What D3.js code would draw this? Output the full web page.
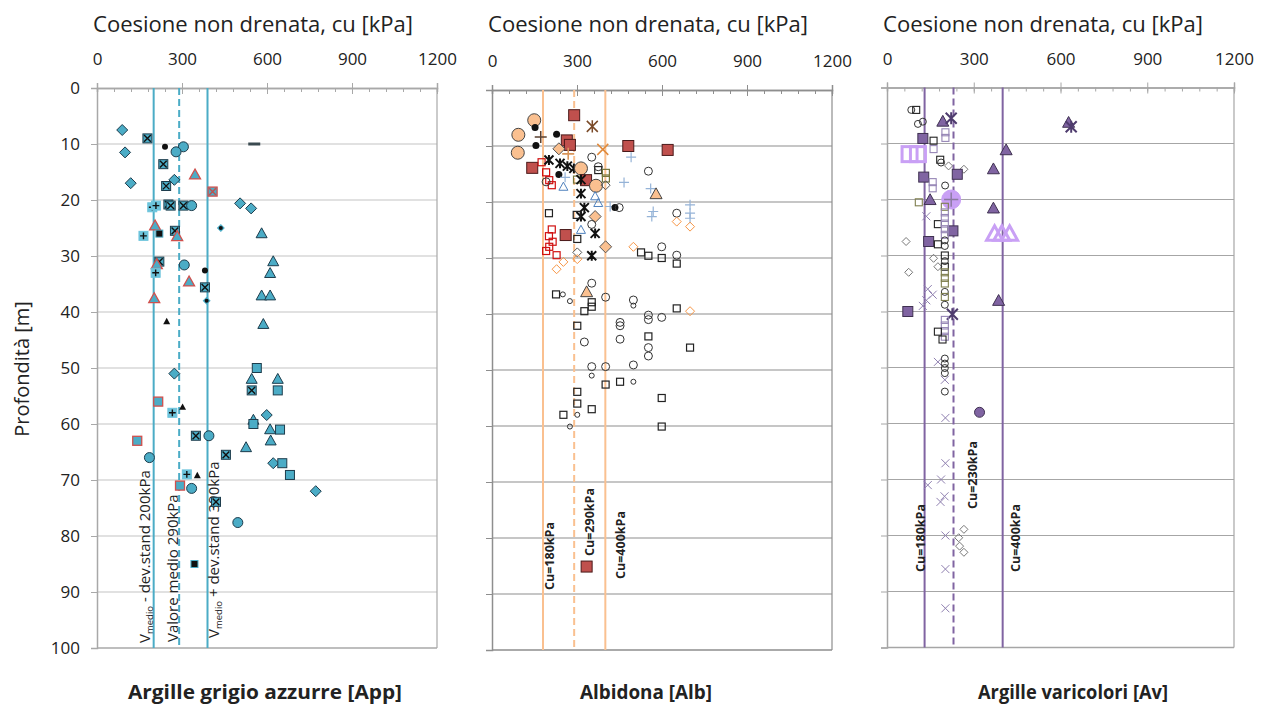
<!DOCTYPE html>
<html>
<head>
<meta charset="utf-8">
<script src="https://cdn.jsdelivr.net/npm/d3@7"></script>
<style>
  body { margin: 0; background: #fff; }
  svg { display: block; }
  text { font-family: "Open Sans", "Liberation Sans", sans-serif; fill: #222; }
</style>
</head>
<body>
<div id="chart"></div>
<script>
// ---- data ----
const cuTicks = [0, 300, 600, 900, 1200];
const cuMinor = d3.range(0, 1201, 60);
const depthTicks = d3.range(0, 101, 10);

// [cu kPa, depth m, series]
const appPoints = [
  [89,7.5,'diamond'],[178,9,'xsquare'],[240,10.5,'dot'],[305,10.5,'circle'],[279,11.4,'circle'],
  [555,10,'dash'],[99,11.5,'diamond'],[234,13.6,'xsquare'],[346,15.5,'redtri'],[119,17,'diamond'],
  [273,16.4,'diamond'],[244,17.5,'xsquare'],[408,18.5,'redx'],[195,21.3,'plussquare'],[208,21,'plussquare'],
  [252,20.8,'xsquare'],[260,21,'xsquare'],[305,21,'xsquare'],[334,21,'circle'],[505,20.6,'diamond'],
  [544,21.5,'diamond'],[205,24.6,'redtri'],[437,25,'dotdiamond'],[275,25.5,'xsquare'],[283,26.5,'redtri'],
  [164,26.4,'plussquare'],[220,26,'blacksq'],[581,26,'triangle'],[220,31,'xsquare'],[211,31.5,'redtri'],
  [308,31.6,'circle'],[622,31,'triangle'],[381,32.6,'dot'],[207,33,'plussquare'],[611,33.1,'triangle'],
  [325,34.6,'redtri'],[381,35.6,'xsquare'],[202,37.6,'redtri'],[387,38,'dotdiamond'],[581,37.1,'triangle'],
  [611,37.1,'triangle'],[246,41.7,'blacktri'],[587,42.2,'triangle'],[564,50,'square'],[273,51,'diamond'],
  [546,52,'triangle'],[638,52,'triangle'],[546,54,'xsquare'],[638,54,'square'],[216,56,'redsq'],
  [302,57,'blacktri'],[266,58,'plussquare'],[552,59.3,'triangle'],[552,60,'square'],[599,58.4,'diamond'],
  [611,61,'triangle'],[646,61,'square'],[142,63,'redsq'],[349,62.1,'xsquare'],[395,62.1,'circle'],
  [613,63,'triangle'],[185,66,'circle'],[526,64.2,'triangle'],[455,65.5,'xsquare'],[622,67,'diamond'],
  [654,67,'square'],[681,69.1,'square'],[317,69,'plussquare'],[354,69.2,'blacktri'],[293,71,'redsq'],
  [334,71.5,'circle'],[772,72,'diamond'],[420,73.9,'xsquare'],[497,77.6,'circle'],[344,85,'blacksq']
];

const albPoints = [
  [149,5.4,'peachcircle'],[152,6.7,'dot'],[93,8,'peachcircle'],[91,11.2,'peachcircle'],[155,9.9,'dot'],
  [172,8.4,'brownplus'],[228,7.9,'dot'],[290,4.5,'darkredsq'],[354,6.5,'brownstar'],[264,9,'darkredsq'],
  [275,9.8,'darkredsq'],[236,10.5,'peachdiamond'],[269,11.4,'peachplus'],[391,10.6,'orangex'],
  [481,10,'darkredsq'],[620,10.7,'darkredsq'],[491,12,'blueplus'],[352,12,'opencircle'],[142,13.9,'darkredsq'],
  [175,12.9,'redopensq'],[191,14.7,'redopensq'],[202,16.1,'redopensq'],[211,17,'redopensq'],
  [201,12.5,'star'],[240,13.1,'star'],[266,13.6,'star'],[289,14,'star'],[236,15.1,'dot'],
  [191,16.4,'opencircle'],[252,17.3,'bluetri'],[258,15.6,'blueplus'],[314,14,'peachcircle'],
  [375,14.3,'opensquare'],[402,14.8,'olivesq'],[375,13.7,'opencircle'],[332,16.1,'darkredsq'],
  [300,16,'olivesq'],[314,16,'star'],[367,17.1,'peachcircle'],[402,15.8,'olivesq'],[401,17,'greydiamond'],
  [552,14.5,'opencircle'],[466,16.5,'blueplus'],[560,17.6,'blueplus'],[579,18.6,'peachtri'],[314,18.5,'star'],
  [364,19,'bluetri'],[375,20.2,'bluetri'],[326,21,'star'],[314,22.6,'star'],[417,20.8,'blueplus'],
  [434,21,'dot'],[449,21,'opencircle'],[569,21.7,'blueplus'],[564,22.6,'blueplus'],[652,22,'opencircle'],
  [699,20.5,'blueplus'],[699,22,'blueplus'],[699,22.9,'blueplus'],[652,23.5,'orangediamond'],
  [699,24.4,'orangediamond'],[201,22,'opensquare'],[299,22.3,'opensquare'],[364,22.6,'peachdiamond'],
  [352,24,'opencircle'],[314,25,'bluetri'],[364,25.6,'star'],[211,24.9,'redopensq'],[201,26.1,'redopensq'],
  [214,27.1,'redopensq'],[202,28,'redopensq'],[191,28.75,'redopensq'],[228,29.5,'redopensq'],
  [260,25.9,'darkredsq'],[301,26.6,'opensquare'],[301,29,'greydiamond'],[401,28,'peachdiamond'],
  [352,29.6,'star'],[301,30.2,'orangediamond'],[499,28,'orangediamond'],[526,29,'opensquare'],
  [552,29.6,'opensquare'],[599,28,'opencircle'],[599,30,'opensquare'],[652,29.5,'opencircle'],
  [652,31,'opensquare'],[252,30.7,'orangediamond'],[228,32,'orangediamond'],[352,34.5,'opencircle'],
  [334,36.1,'peachtri'],[226,36.5,'opensquare'],[250,36.5,'smallcircle'],[275,37.7,'smallcircle'],
  [401,37,'opencircle'],[352,37.9,'opensquare'],[352,38.7,'opensquare'],[326,39.5,'opensquare'],
  [499,37.5,'opencircle'],[499,38.5,'smallcircle'],[652,39,'opensquare'],[699,39.5,'orangediamond'],
  [552,40.2,'opencircle'],[552,41,'opencircle'],[599,40.6,'opencircle'],[301,42.1,'opensquare'],
  [452,41.5,'opencircle'],[452,42.1,'opencircle'],[326,45,'opencircle'],[452,44.5,'opencircle'],
  [552,44,'opensquare'],[552,46,'opencircle'],[552,47.5,'opencircle'],[699,46,'opensquare'],
  [352,49.4,'opencircle'],[401,49.4,'opencircle'],[499,49.1,'opencircle'],[352,51,'smallcircle'],
  [401,52.6,'opensquare'],[452,52.1,'opensquare'],[499,52.1,'smallcircle'],[599,55,'opensquare'],
  [301,53.9,'opensquare'],[301,56,'opensquare'],[352,57,'opensquare'],[252,58,'opensquare'],
  [301,58,'smallcircle'],[275,60.1,'smallcircle'],[599,60.1,'opensquare'],[334,85.1,'darkredsq']
];

const avPoints = [
  [84,4,'opencircle'],[101,4,'opensquare'],[107,6.5,'opencircle'],[124,6.1,'opencircle'],
  [193,6.1,'purpletri'],[222,5.5,'purplestar'],[628,6.3,'purpletri'],[637,7,'purplestar'],
  [202,8,'greysq'],[202,9,'greysq'],[124,9.1,'purplesq'],[161,9.5,'opensquare'],[161,11,'greysq'],
  [78,11.9,'bigsq'],[107,11.9,'bigsq'],[412,11.2,'purpletri'],[184,12.9,'opensquare'],[187,13.4,'opencircle'],
  [213,14,'opendiamond'],[266,14.6,'opendiamond'],[243,15.5,'purplesq'],[368,14.6,'purpletri'],
  [127,16,'purplesq'],[158,16.9,'greysq'],[158,18,'greysq'],[201,17.5,'opencircle'],[110,20.5,'olivesq'],
  [149,20.1,'purpletri'],[222,20,'bigcircle'],[368,21.6,'purpletri'],[136,23,'greyx'],
  [176,24.4,'opensquare'],[228,25.6,'purplesq'],[372,26.2,'bigtri'],[397,26.2,'bigtri'],[424,26.2,'bigtri'],
  [66,27.5,'opendiamond'],[144,27.5,'purplesq'],[176,28,'opensquare'],[161,30.5,'opendiamond'],
  [176,32,'opendiamond'],[75,33,'opendiamond'],
  [200,21.3,'olivesq'],[200,22.3,'greysq'],[200,23.3,'greysq'],[200,24.3,'greysq'],[200,25.3,'greysq'],
  [200,26.3,'greysq'],[200,27.3,'opencircle'],[200,28.3,'opencircle'],[200,30,'opensquare'],
  [200,31,'opencircle'],[200,32,'opensquare'],[200,33,'olivesq'],[200,34,'olivesq'],[200,35,'olivesq'],
  [200,36.5,'opencircle'],[200,37.4,'olivesq'],[200,38.8,'opencircle'],
  [141,36,'greyx'],[158,37,'greyx'],[136,38,'greyx'],[124,39,'greyx'],[386,38.1,'purpletri'],
  [72,40,'purplesq'],[226,40.5,'purplestar'],[200,41.5,'greysq'],[200,42.5,'greysq'],[200,43.5,'greysq'],
  [200,44.5,'greysq'],[176,43.6,'opensquare'],[192,45,'opensquare'],[176,49,'greyx'],
  [200,48.4,'opencircle'],[200,49.3,'opencircle'],[200,50.1,'opencircle'],[200,51,'opencircle'],
  [200,52.2,'greyx'],[200,54.3,'opencircle'],[202,59,'greyx'],[320,58,'purpledot'],
  [202,67.1,'greyx'],[187,70,'greyx'],[141,71,'greyx'],[199,73,'greyx'],[185,74,'greyx'],
  [202,80,'greyx'],[202,86,'greyx'],[202,93,'greyx'],
  [266,78.9,'opendiamond'],[248,80.4,'opendiamond'],[251,81.9,'opendiamond'],[266,83,'opendiamond']
];

// reference lines: [cu, dashed]
const appLines = [[200,false],[290,true],[390,false]];
const albLines = [[180,false],[290,true],[400,false]];
const avLines  = [[130,false],[230,true],[400,false]];

const appLabels = ['Vmedio - dev.stand  200kPa', 'Valore medio  290kPa', 'Vmedio + dev.stand  390kPa'];
const albLabels = ['Cu=180kPa', 'Cu=290kPa', 'Cu=400kPa'];
const avLabels  = ['Cu=180kPa', 'Cu=230kPa', 'Cu=400kPa'];

const panelNames = ['Argille grigio azzurre [App]', 'Albidona [Alb]', 'Argille varicolori [Av]'];
const xTitle = 'Coesione non drenata, cu [kPa]';
const yTitle = 'Profondità [m]';

// ---- styles ----
const teal = '#4bacc6', tealDk = '#1d3c4c';
const appStyles = {
  diamond:    {shape:'diamond', size:11, fill:teal, stroke:tealDk},
  circle:     {shape:'circle', size:10, fill:teal, stroke:tealDk},
  triangle:   {shape:'triangle', size:11, fill:teal, stroke:tealDk},
  square:     {shape:'square', size:9, fill:teal, stroke:tealDk},
  xsquare:    {shape:'square', size:9, fill:teal, stroke:tealDk, inner:'x', ic:'#111'},
  plussquare: {shape:'square', size:9, fill:'#6cc4dc', stroke:'#6cc4dc', inner:'plus', ic:'#111'},
  redtri:     {shape:'triangle', size:11, fill:teal, stroke:'#d0504d', sw:1.3},
  redsq:      {shape:'square', size:9, fill:teal, stroke:'#d0504d', sw:1.3},
  redx:       {shape:'square', size:9, fill:teal, stroke:'#d0504d', sw:1.3, inner:'x', ic:'#c0504d'},
  dot:        {shape:'circle', size:6, fill:'#111', stroke:'none'},
  blacksq:    {shape:'square', size:7, fill:'#111', stroke:teal},
  blacktri:   {shape:'triangle', size:7, fill:'#111', stroke:'none'},
  dash:       {shape:'dash', size:12, fill:'#3a4a50'},
  dotdiamond: {shape:'diamond', size:8, fill:teal, stroke:'none', inner:'dot'}
};
const albStyles = {
  opencircle:   {shape:'circle', size:8, fill:'none', stroke:'#333'},
  smallcircle:  {shape:'circle', size:5, fill:'none', stroke:'#333'},
  opensquare:   {shape:'square', size:7, fill:'none', stroke:'#222', sw:1.2},
  orangediamond:{shape:'diamond', size:9, fill:'none', stroke:'#f79646'},
  redopensq:    {shape:'square', size:7, fill:'none', stroke:'#d01010', sw:1.2},
  blueplus:     {shape:'plus', size:10, stroke:'#95b3d7', sw:1.2},
  bluetri:      {shape:'triangle', size:9, fill:'none', stroke:'#4f81bd'},
  peachcircle:  {shape:'circle', size:13, fill:'#fac090', stroke:'#444'},
  darkredsq:    {shape:'square', size:11, fill:'#c0504d', stroke:'#4a1a1a'},
  star:         {shape:'star', size:9, stroke:'#111', sw:2},
  dot:          {shape:'circle', size:7, fill:'#111', stroke:'none'},
  peachtri:     {shape:'triangle', size:12, fill:'#fac090', stroke:'#444'},
  peachdiamond: {shape:'diamond', size:12, fill:'#fac090', stroke:'#555'},
  peachplus:    {shape:'plus', size:12, stroke:'#d9955a', sw:1.6},
  brownplus:    {shape:'plus', size:12, stroke:'#5a4030', sw:1.5},
  brownstar:    {shape:'star', size:11, stroke:'#7a4a28', sw:1.5},
  orangex:      {shape:'x', size:11, stroke:'#e08a3c', sw:1.5},
  olivesq:      {shape:'square', size:7, fill:'none', stroke:'#77773c', sw:1.2},
  greydiamond:  {shape:'diamond', size:9, fill:'none', stroke:'#555'}
};
const purple = '#8064a2', purpleDk = '#3f3151', lav = '#c9a0f5';
const avStyles = {
  opencircle: {shape:'circle', size:7, fill:'none', stroke:'#333'},
  opensquare: {shape:'square', size:7, fill:'none', stroke:'#222', sw:1.1},
  olivesq:    {shape:'square', size:7, fill:'none', stroke:'#7f7f4f', sw:1.1},
  greysq:     {shape:'square', size:7, fill:'none', stroke:'#9585b5', sw:1.1},
  purpletri:  {shape:'triangle', size:12, fill:purple, stroke:purpleDk},
  purplesq:   {shape:'square', size:10, fill:purple, stroke:purpleDk},
  purplestar: {shape:'star', size:11, stroke:'#4f3c6e', sw:2},
  bigsq:      {shape:'square', size:15, fill:'none', stroke:lav, sw:3},
  bigtri:     {shape:'triangle', size:16, fill:'none', stroke:lav, sw:3},
  bigcircle:  {shape:'circle', size:19, fill:lav, stroke:lav, inner:'plus', ic:'#8a7aa0'},
  greyx:      {shape:'x', size:8, stroke:'#8f80b0', sw:1},
  opendiamond:{shape:'diamond', size:8, fill:'none', stroke:'#777'},
  purpledot:  {shape:'circle', size:10, fill:purple, stroke:purpleDk}
};

// ---- layout ----
const W = 1264, H = 705;
const panels = [
  {points:appPoints, styles:appStyles, lines:appLines, labels:appLabels, name:panelNames[0],
   box:{x0:97, x1:437, y0:88, y1:648}, grid:'#c4c4c4', axis:'#a8a8a8', lineColor:teal,
   showDepth:true, titleW:320, nameX:265, nameW:274, labelKind:'app'},
  {points:albPoints, styles:albStyles, lines:albLines, labels:albLabels, name:panelNames[1],
   box:{x0:492, x1:832, y0:90, y1:650}, grid:'#8e8e8e', axis:'#8e8e8e', lineColor:'#fac090',
   showDepth:false, titleW:320, nameX:646, nameW:132, labelKind:'cu',
   labelPos:[[11,590],[20,556],[20,579]]},
  {points:avPoints, styles:avStyles, lines:avLines, labels:avLabels, name:panelNames[2],
   box:{x0:887, x1:1234, y0:87.5, y1:647.5}, grid:'#a6a6a6', axis:'#a6a6a6', lineColor:purple,
   showDepth:false, titleW:320, nameX:1073, nameW:190, labelKind:'cu',
   labelPos:[[0,572],[23,509],[17,572]]}
];

const svg = d3.select('#chart').append('svg').attr('width', W).attr('height', H);

function shapePath(shape, s) {
  const p = d3.path(), h = s / 2;
  if (shape === 'diamond') { p.moveTo(0,-h); p.lineTo(h,0); p.lineTo(0,h); p.lineTo(-h,0); p.closePath(); }
  else if (shape === 'triangle') { p.moveTo(0,-h*1.05); p.lineTo(h,h*0.75); p.lineTo(-h,h*0.75); p.closePath(); }
  else if (shape === 'x') { p.moveTo(-h,-h); p.lineTo(h,h); p.moveTo(h,-h); p.lineTo(-h,h); }
  else if (shape === 'plus') { p.moveTo(-h,0); p.lineTo(h,0); p.moveTo(0,-h); p.lineTo(0,h); }
  else if (shape === 'star') { p.moveTo(-h,-h); p.lineTo(h,h); p.moveTo(h,-h); p.lineTo(-h,h); p.moveTo(0,-h*1.1); p.lineTo(0,h*1.1); }
  return p.toString();
}

function drawMarker(g, st) {
  const s = st.size, h = s / 2, sw = st.sw || 1;
  if (st.shape === 'circle') {
    g.append('circle').attr('r', h).attr('fill', st.fill).attr('stroke', st.stroke).attr('stroke-width', sw);
  } else if (st.shape === 'square') {
    g.append('rect').attr('x', -h).attr('y', -h).attr('width', s).attr('height', s)
      .attr('fill', st.fill).attr('stroke', st.stroke).attr('stroke-width', sw);
  } else if (st.shape === 'dash') {
    g.append('rect').attr('x', -h).attr('y', -1.5).attr('width', s).attr('height', 3).attr('fill', st.fill);
  } else if (st.shape === 'diamond' || st.shape === 'triangle') {
    g.append('path').attr('d', shapePath(st.shape, s))
      .attr('fill', st.fill).attr('stroke', st.stroke).attr('stroke-width', sw);
  } else {
    g.append('path').attr('d', shapePath(st.shape, s))
      .attr('fill', 'none').attr('stroke', st.stroke).attr('stroke-width', sw);
  }
  if (st.inner === 'x' || st.inner === 'plus') {
    g.append('path').attr('d', shapePath(st.inner, s * 0.75))
      .attr('fill', 'none').attr('stroke', st.ic).attr('stroke-width', 1.4);
  } else if (st.inner === 'dot') {
    g.append('circle').attr('r', 2).attr('fill', '#111');
  }
}

panels.forEach(p => {
  const b = p.box;
  const x = d3.scaleLinear().domain([0, 1200]).range([b.x0, b.x1]);
  const y = d3.scaleLinear().domain([0, 100]).range([b.y0, b.y1]);
  const g = svg.append('g');

  // horizontal grid
  g.append('g').selectAll('line')
    .data(depthTicks.filter(d => d > 0 && d < 100))
    .join('line')
    .attr('x1', b.x0).attr('x2', b.x1)
    .attr('y1', d => y(d)).attr('y2', d => y(d))
    .attr('stroke', p.grid).attr('stroke-width', 1.2);

  // frame right + bottom
  g.append('line').attr('x1', b.x1).attr('x2', b.x1).attr('y1', b.y0).attr('y2', b.y1)
    .attr('stroke', p.axis).attr('stroke-width', 1.2);
  g.append('line').attr('x1', b.x0).attr('x2', b.x1).attr('y1', b.y1).attr('y2', b.y1)
    .attr('stroke', p.axis).attr('stroke-width', 1.5);

  // top axis: minor ticks inside, major ticks crossing, labels above
  const minorAx = g.append('g').attr('transform', `translate(0,${b.y0})`)
    .call(d3.axisBottom(x).tickValues(cuMinor).tickSize(4).tickFormat(''));
  const majorAx = g.append('g').attr('transform', `translate(0,${b.y0})`)
    .call(d3.axisTop(x).tickValues(cuTicks).tickSize(5).tickPadding(18).tickFormat(d3.format('d')));
  g.append('g').attr('transform', `translate(0,${b.y0})`)
    .call(d3.axisBottom(x).tickValues(cuTicks).tickSize(6).tickFormat(''))
    .select('.domain').remove();
  [minorAx, majorAx].forEach(a => {
    a.selectAll('path.domain').attr('stroke', p.axis).attr('stroke-width', 1.5);
  });
  g.selectAll('.tick line').attr('stroke', p.axis);
  majorAx.selectAll('text').attr('font-size', 17).attr('fill', '#222')
    .attr('font-family', '"Open Sans", sans-serif');

  // left axis
  const yAx = g.append('g').attr('transform', `translate(${b.x0},0)`)
    .call(d3.axisLeft(y).tickValues(depthTicks).tickSize(6).tickPadding(11)
      .tickFormat(p.showDepth ? d3.format('d') : ''));
  yAx.select('.domain').attr('stroke', p.axis).attr('stroke-width', 1.5);
  yAx.selectAll('line').attr('stroke', p.axis);
  yAx.selectAll('text').attr('font-size', 17).attr('fill', '#222')
    .attr('font-family', '"Open Sans", sans-serif');

  // reference lines
  g.append('g').selectAll('line').data(p.lines).join('line')
    .attr('x1', d => x(d[0])).attr('x2', d => x(d[0]))
    .attr('y1', b.y0).attr('y2', b.y1)
    .attr('stroke', p.lineColor).attr('stroke-width', 2)
    .attr('stroke-dasharray', d => d[1] ? '7,4' : null);

  // line labels (rotated)
  if (p.labelKind === 'app') {
    const offs = [[-4, 643], [-1.5, 642], [11, 638]];
    p.lines.forEach((ln, i) => {
      const lx = x(ln[0]) + offs[i][0], ly = offs[i][1];
      const t = g.append('text')
        .attr('transform', `translate(${lx},${ly}) rotate(-90)`)
        .attr('font-family', '"Liberation Sans Narrow", "DejaVu Sans Condensed", sans-serif')
        .attr('font-size', 15).attr('fill', '#000');
      const txt = p.labels[i];
      if (txt.startsWith('Vmedio')) {
        t.append('tspan').text('V');
        t.append('tspan').attr('font-size', 9.5).attr('dy', 3).text('medio');
        t.append('tspan').attr('dy', -3).text(txt.slice(6));
      } else {
        t.text(txt);
      }
    });
  } else {
    p.lines.forEach((ln, i) => {
      const lx = x(ln[0]) + p.labelPos[i][0], ly = p.labelPos[i][1];
      g.append('text')
        .attr('transform', `translate(${lx},${ly}) rotate(-90)`)
        .attr('font-family', '"DejaVu Sans Condensed", "Liberation Sans Narrow", sans-serif')
        .attr('font-weight', 'bold').attr('font-size', 12.5).attr('fill', '#111')
        .attr('textLength', 68).attr('lengthAdjust', 'spacingAndGlyphs')
        .text(p.labels[i]);
    });
  }

  // markers
  g.append('g').selectAll('g').data(p.points).join('g')
    .attr('transform', d => `translate(${x(d[0])},${y(d[1])})`)
    .each(function(d) { drawMarker(d3.select(this), p.styles[d[2]]); });

  // x title
  g.append('text').attr('x', b.x0 - 4).attr('y', 32)
    .attr('font-size', 21).attr('fill', '#222')
    .attr('textLength', p.titleW).attr('lengthAdjust', 'spacingAndGlyphs')
    .text(xTitle);

  // panel name
  g.append('text').attr('x', p.nameX).attr('y', 699).attr('text-anchor', 'middle')
    .attr('font-family', '"Liberation Sans Narrow", "Open Sans", sans-serif')
    .attr('font-weight', 'bold').attr('font-size', 19).attr('fill', '#111')
    .attr('textLength', p.nameW).attr('lengthAdjust', 'spacingAndGlyphs')
    .text(p.name);
});

// y title
svg.append('text')
  .attr('transform', 'translate(29,369) rotate(-90)')
  .attr('text-anchor', 'middle')
  .attr('font-size', 20).attr('fill', '#222')
  .text(yTitle);
</script>
</body>
</html>
